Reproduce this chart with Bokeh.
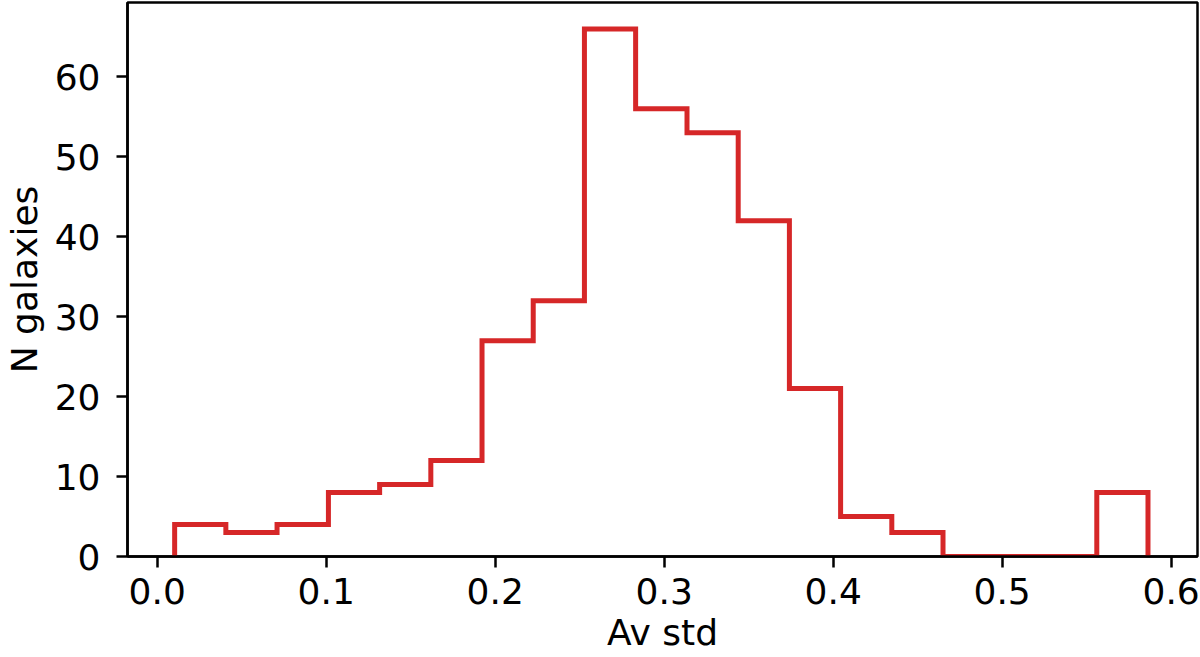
from bokeh.plotting import figure
from bokeh.embed import file_html
from bokeh.resources import INLINE
from bokeh.models import FixedTicker, Range1d, CustomJSTickFormatter

# Histogram data (Av std), 19 equal bins
bin_edges = [0.0103, 0.0406, 0.0709, 0.1013, 0.1316, 0.1619, 0.1922, 0.2225,
             0.2528, 0.2831, 0.3135, 0.3438, 0.3741, 0.4044, 0.4347, 0.4650,
             0.4954, 0.5257, 0.5560, 0.5863]
counts = [4, 3, 4, 8, 9, 12, 27, 32, 66, 56, 53, 42, 21, 5, 3, 0, 0, 0, 8]

x_ticks = [0.0, 0.1, 0.2, 0.3, 0.4, 0.5, 0.6]
y_ticks = [0, 10, 20, 30, 40, 50, 60]
x_label = "Av std"
y_label = "N galaxies"

# step outline (matplotlib histtype='step')
xs = [bin_edges[0]]
ys = [0]
for i, c in enumerate(counts):
    xs += [bin_edges[i], bin_edges[i + 1]]
    ys += [c, c]
xs.append(bin_edges[-1])
ys.append(0)

FONT = "DejaVu Sans"
FS = "36px"

p = figure(width=1200, height=657, output_backend="svg", toolbar_location=None,
           x_range=Range1d(-0.0176, 0.6156), y_range=Range1d(0, max(counts) * 1.05),
           min_border_left=127, min_border_right=3, min_border_top=2, min_border_bottom=101)

p.line(xs, ys, line_color="#d62728", line_width=5, line_join="miter")

p.grid.visible = False
p.outline_line_color = "black"
p.outline_line_width = 2.5
p.background_fill_color = "white"
p.border_fill_color = "white"

for ax, ticks in ((p.xaxis[0], x_ticks), (p.yaxis[0], y_ticks)):
    ax.ticker = FixedTicker(ticks=ticks)
    ax.minor_tick_line_color = None
    ax.major_tick_in = 0
    ax.major_tick_out = 11
    ax.major_tick_line_width = 2.5
    ax.major_tick_line_color = "black"
    ax.axis_line_width = 2.5
    ax.axis_line_color = "black"
    ax.major_label_text_font = FONT
    ax.major_label_text_font_size = FS
    ax.major_label_text_color = "black"
    ax.axis_label_text_font = FONT
    ax.axis_label_text_font_size = FS
    ax.axis_label_text_font_style = "normal"
    ax.axis_label_text_color = "black"

p.xaxis[0].axis_label = x_label
p.yaxis[0].axis_label = y_label
p.xaxis[0].major_label_standoff = 10
p.xaxis[0].axis_label_standoff = 5
p.yaxis[0].major_label_standoff = 16
p.yaxis[0].axis_label_standoff = 7
p.xaxis[0].formatter = CustomJSTickFormatter(code="return tick.toFixed(1);")

open("out.html", "w").write(file_html(p, INLINE))
